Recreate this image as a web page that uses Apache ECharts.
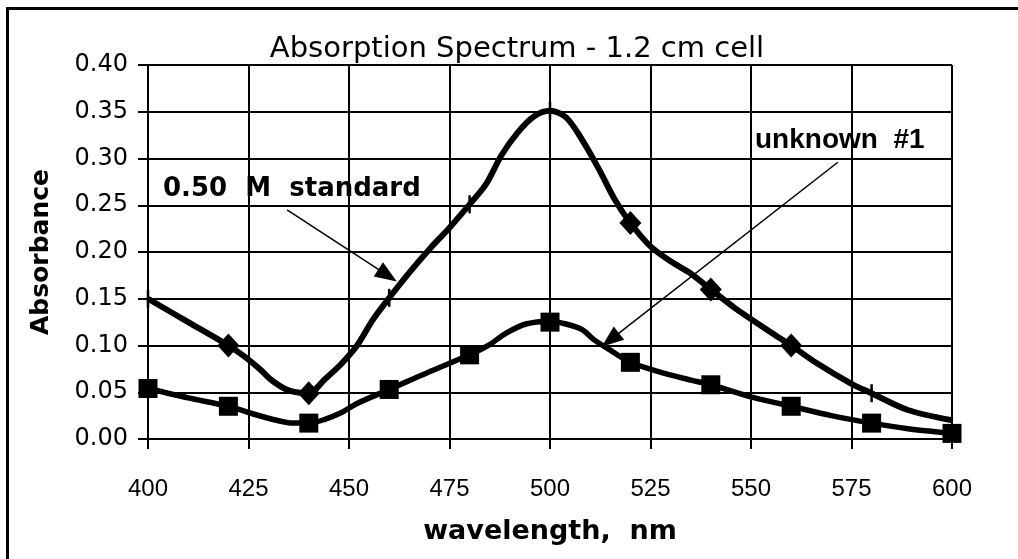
<!DOCTYPE html>
<html>
<head>
<meta charset="utf-8">
<script src="https://cdn.jsdelivr.net/npm/echarts@6/dist/echarts.min.js"></script>
<style>
html, body { margin: 0; padding: 0; background: #fff; }
#chart { width: 1018px; height: 559px; }
</style>
</head>
<body>
<div id="chart"></div>
<script>
// standard curve
var stdNm = [400, 410, 420, 425, 428, 431, 435, 440, 444, 448, 452, 456, 460, 465, 470, 475, 480, 484, 488, 492, 496, 500, 504, 508, 512, 516, 520, 525, 530, 535, 540, 546, 555, 560, 566, 575, 580, 589, 600];
var stdAbs = [0.150, 0.125, 0.100, 0.085, 0.074, 0.062, 0.052, 0.049, 0.064, 0.080, 0.100, 0.128, 0.151, 0.178, 0.203, 0.226, 0.251, 0.272, 0.304, 0.328, 0.345, 0.351, 0.344, 0.320, 0.290, 0.257, 0.231, 0.206, 0.190, 0.177, 0.160, 0.140, 0.114, 0.100, 0.082, 0.059, 0.049, 0.031, 0.020];
// markers on the standard curve
var diamondNm = [420, 440, 520, 540, 560];
var diamondAbs = [0.100, 0.049, 0.231, 0.160, 0.100];
var tickNm = [400, 460, 480, 500, 580];
var tickAbs = [0.150, 0.151, 0.251, 0.351, 0.049];

// unknown #1 curve
var unkNm = [400, 410, 420, 426, 432, 436, 440, 444, 448, 452, 460, 470, 480, 485, 489, 494, 500, 504, 508, 511, 515, 520, 527, 535, 540, 550, 560, 570, 580, 589, 600];
var unkAbs = [0.054, 0.044, 0.035, 0.027, 0.020, 0.017, 0.017, 0.021, 0.028, 0.038, 0.053, 0.072, 0.090, 0.101, 0.113, 0.123, 0.126, 0.123, 0.117, 0.106, 0.095, 0.082, 0.072, 0.063, 0.058, 0.045, 0.035, 0.025, 0.017, 0.011, 0.006];
var squareNm = [400, 420, 440, 460, 480, 500, 520, 540, 560, 580, 600];
var squareAbs = [0.054, 0.035, 0.017, 0.053, 0.090, 0.125, 0.082, 0.058, 0.035, 0.017, 0.006];

function pairs(xs, ys) {
	var out = [];
	for (var i = 0; i < xs.length; i++) {
		out.push([xs[i], ys[i]]);
	}
	return out;
}

var myChart = echarts.init(document.getElementById('chart'));

var option = {
	animation: false,
	backgroundColor: '#fff',
	graphic: [{
		type: 'rect',
		shape: { x: 7.5, y: 8.5, width: 1040, height: 580 },
		style: { fill: 'none', stroke: '#000', lineWidth: 3 },
		silent: true
	}, {
		type: 'text',
		x: 517, y: 49,
		style: {
			text: 'Absorption Spectrum - 1.2 cm cell',
			font: '29px "DejaVu Sans"',
			fill: '#000',
			textAlign: 'center',
			textVerticalAlign: 'middle'
		}
	}, {
		type: 'text',
		x: 163, y: 189,
		style: {
			text: '0.50  M  standard',
			font: 'bold 26px "DejaVu Sans"',
			fill: '#000',
			textAlign: 'left',
			textVerticalAlign: 'middle'
		}
	}, {
		type: 'text',
		x: 755, y: 140,
		style: {
			text: 'unknown  #1',
			font: 'bold 28px "Liberation Sans"',
			fill: '#000',
			textAlign: 'left',
			textVerticalAlign: 'middle'
		}
	}],
	grid: {
		left: 148,
		right: 66,
		top: 65,
		bottom: 120,
		containLabel: false
	},
	xAxis: {
		type: 'value',
		min: 400,
		max: 600,
		interval: 25,
		name: 'wavelength,  nm',
		nameLocation: 'middle',
		nameGap: 79,
		nameTextStyle: { color: '#000', fontFamily: 'DejaVu Sans', fontWeight: 'bold', fontSize: 27 },
		axisLine: { lineStyle: { color: '#000', width: 2 } },
		axisTick: { length: 10, lineStyle: { color: '#000', width: 2 } },
		axisLabel: { color: '#000', fontFamily: 'Liberation Sans', fontSize: 24, margin: 38 },
		splitLine: { show: true, lineStyle: { color: '#000', width: 2 } }
	},
	yAxis: {
		type: 'value',
		min: 0,
		max: 0.4,
		interval: 0.05,
		name: 'Absorbance',
		nameLocation: 'middle',
		nameGap: 94,
		nameRotate: 90,
		nameTextStyle: { color: '#000', fontFamily: 'DejaVu Sans', fontWeight: 'bold', fontSize: 25 },
		axisLine: { show: true, lineStyle: { color: '#000', width: 2 } },
		axisTick: { show: true, length: 10, lineStyle: { color: '#000', width: 2 } },
		axisLabel: {
			color: '#000', fontFamily: 'DejaVu Sans', fontSize: 24, margin: 20,
			formatter: function(v) { return v.toFixed(2); }
		},
		splitLine: { show: true, lineStyle: { color: '#000', width: 2 } }
	},
	series: [{
		name: '0.50 M standard',
		type: 'line',
		data: pairs(stdNm, stdAbs),
		smooth: 0.3,
		showSymbol: false,
		lineStyle: { color: '#000', width: 6 },
		z: 3,
		markLine: {
			silent: true,
			symbol: ['none', 'triangle'],
			symbolSize: [17, 22],
			label: { show: false },
			lineStyle: { color: '#000', width: 1.5, type: 'solid', opacity: 1 },
			itemStyle: { color: '#000' },
			data: [
				[{ coord: [434.6, 0.245] }, { coord: [459.6, 0.175] }],
				[{ coord: [571.6, 0.296] }, { coord: [515.0, 0.106] }]
			]
		}
	}, {
		name: 'unknown #1',
		type: 'line',
		data: pairs(unkNm, unkAbs),
		smooth: 0.3,
		showSymbol: false,
		lineStyle: { color: '#000', width: 5.5 },
		z: 3
	}, {
		type: 'scatter',
		data: pairs(diamondNm, diamondAbs),
		symbol: 'diamond',
		symbolSize: [22, 24],
		itemStyle: { color: '#000', opacity: 1 },
		z: 4
	}, {
		type: 'scatter',
		data: pairs(tickNm, tickAbs),
		symbol: 'rect',
		symbolSize: [2.5, 18],
		itemStyle: { color: '#000', opacity: 1 },
		z: 4
	}, {
		type: 'scatter',
		data: pairs(squareNm, squareAbs),
		symbol: 'rect',
		symbolSize: 19,
		itemStyle: { color: '#000', opacity: 1 },
		z: 4
	}]
};

myChart.setOption(option);
</script>
</body>
</html>
